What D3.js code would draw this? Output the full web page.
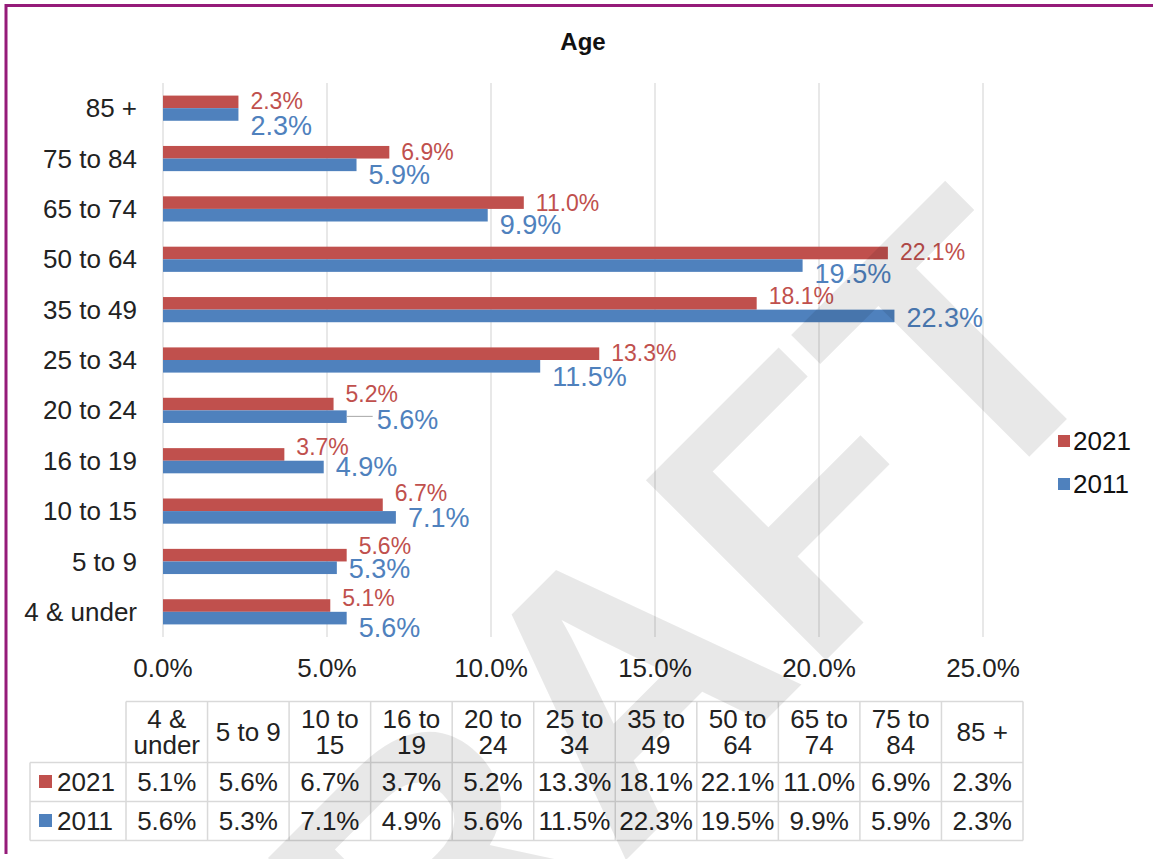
<!DOCTYPE html>
<html>
<head>
<meta charset="utf-8">
<script src="https://cdn.jsdelivr.net/npm/d3@7"></script>
<style>
  body { margin: 0; background: #fff; }
  svg text { font-family: "Liberation Sans", Arial, sans-serif; }
</style>
</head>
<body>
<div id="chart"></div>
<script>
// age bands, in table order (bottom of the chart first)
const categories = ["4 & under", "5 to 9", "10 to 15", "16 to 19", "20 to 24", "25 to 34",
                    "35 to 49", "50 to 64", "65 to 74", "75 to 84", "85 +"];
const headerLines = [["4 &", "under"], ["5 to 9"], ["10 to", "15"], ["16 to", "19"], ["20 to", "24"],
                     ["25 to", "34"], ["35 to", "49"], ["50 to", "64"], ["65 to", "74"], ["75 to", "84"], ["85 +"]];
const values2021 = [5.1, 5.6, 6.7, 3.7, 5.2, 13.3, 18.1, 22.1, 11.0, 6.9, 2.3];
const values2011 = [5.6, 5.3, 7.1, 4.9, 5.6, 11.5, 22.3, 19.5, 9.9, 5.9, 2.3];
const seriesNames = ["2021", "2011"];
const xTicks = [0, 5, 10, 15, 20, 25];

const W = 1153, H = 859;
const red = "#c0504d", blue = "#4f81bd";

var svg = d3.select("#chart").append("svg")
    .attr("width", W)
    .attr("height", H);

// purple frame (top + left only are visible)
svg.append("line").attr("x1", 6).attr("x2", W).attr("y1", 5.5).attr("y2", 5.5)
    .attr("stroke", "#951b79").attr("stroke-width", 3);
svg.append("line").attr("x1", 6).attr("x2", 6).attr("y1", 4).attr("y2", 854)
    .attr("stroke", "#951b79").attr("stroke-width", 3);

// title
svg.append("text")
    .attr("x", 583).attr("y", 50)
    .attr("text-anchor", "middle")
    .attr("font-weight", "bold")
    .attr("font-size", "24px")
    .attr("fill", "#111")
    .text("Age");

var x = d3.scaleLinear().domain([0, 25]).range([163, 983]);
var y = d3.scaleBand()
    .domain(categories.slice().reverse())
    .range([83, 637])
    .paddingInner(0.5)
    .paddingOuter(0.25);

// gridlines
svg.append("g").selectAll("line")
    .data(xTicks)
    .join("line")
    .attr("x1", d => x(d)).attr("x2", d => x(d))
    .attr("y1", 83).attr("y2", 637)
    .attr("stroke", "#d9d9d9")
    .attr("stroke-width", 1.2);

// x axis tick labels
svg.append("g").selectAll("text")
    .data(xTicks)
    .join("text")
    .attr("x", d => x(d))
    .attr("y", 668)
    .attr("dy", "0.35em")
    .attr("text-anchor", "middle")
    .attr("font-size", "26px")
    .attr("fill", "#222")
    .text(d => d3.format(".1f")(d) + "%");

// category labels
svg.append("g").selectAll("text")
    .data(categories)
    .join("text")
    .attr("x", 137)
    .attr("y", d => y(d) + y.bandwidth() / 2)
    .attr("dy", "0.35em")
    .attr("text-anchor", "end")
    .attr("font-size", "26px")
    .attr("fill", "#222")
    .text(d => d);

const half = y.bandwidth() / 2;
const rows = categories.map((c, i) => ({cat: c, i: i, v21: values2021[i], v11: values2011[i]}));

// bars
svg.append("g").selectAll("rect")
    .data(rows)
    .join("rect")
    .attr("x", x(0))
    .attr("y", d => y(d.cat))
    .attr("width", d => x(d.v21) - x(0))
    .attr("height", half)
    .attr("fill", red);
svg.append("g").selectAll("rect")
    .data(rows)
    .join("rect")
    .attr("x", x(0))
    .attr("y", d => y(d.cat) + half)
    .attr("width", d => x(d.v11) - x(0))
    .attr("height", half)
    .attr("fill", blue);

// data labels were hand-placed in the original: vertical offsets from the bar pair's centre
const dy21 = [-14, -16, -18, -13.5, -16, -7, -13.5, -7, -6, -7, -7.5];
const dy11 = [15.5, 7, 6, 6, 9, 17, 7.5, 14.5, 16, 16, 17.5];
// one 2011 label was dragged aside, with a leader line
const nudge = {"20 to 24": 18};
svg.append("g").selectAll("text")
    .data(rows)
    .join("text")
    .attr("x", d => x(d.v21) + 12)
    .attr("y", d => y(d.cat) + half + dy21[d.i])
    .attr("dy", "0.35em")
    .attr("font-size", "23px")
    .attr("fill", red)
    .text(d => d.v21.toFixed(1) + "%");
svg.append("g").selectAll("line")
    .data(rows.filter(d => nudge[d.cat]))
    .join("line")
    .attr("x1", d => x(d.v11))
    .attr("x2", d => x(d.v11) + nudge[d.cat] + 8)
    .attr("y1", d => y(d.cat) + half + dy11[d.i] - 3)
    .attr("y2", d => y(d.cat) + half + dy11[d.i] - 3)
    .attr("stroke", "#a6a6a6")
    .attr("stroke-width", 1);
svg.append("g").selectAll("text")
    .data(rows)
    .join("text")
    .attr("x", d => x(d.v11) + 12 + (nudge[d.cat] || 0))
    .attr("y", d => y(d.cat) + half + dy11[d.i])
    .attr("dy", "0.35em")
    .attr("font-size", "27px")
    .attr("fill", blue)
    .text(d => d.v11.toFixed(1) + "%");

// legend
const legendY = [441, 484];
seriesNames.forEach(function(s, i) {
    svg.append("rect").attr("x", 1058).attr("y", legendY[i] - 6).attr("width", 12).attr("height", 12)
        .attr("fill", i == 0 ? red : blue);
    svg.append("text").attr("x", 1073).attr("y", legendY[i]).attr("dy", "0.35em")
        .attr("font-size", "26px").attr("fill", "#111").text(s);
});

// data table
var col = d3.scaleBand().domain(categories).range([126, 1023]);
const rowTop = [701.5, 762.5, 801.5, 840.5];
var table = svg.append("g").attr("stroke", "#d9d9d9").attr("stroke-width", 1.5);
table.append("line").attr("x1", 126).attr("x2", 1023).attr("y1", rowTop[0]).attr("y2", rowTop[0]);
[1, 2, 3].forEach(function(r) {
    table.append("line").attr("x1", 30).attr("x2", 1023).attr("y1", rowTop[r]).attr("y2", rowTop[r]);
});
table.append("line").attr("x1", 30).attr("x2", 30).attr("y1", rowTop[1]).attr("y2", rowTop[3]);
table.selectAll(".vcol")
    .data(categories)
    .join("line")
    .attr("x1", d => col(d)).attr("x2", d => col(d))
    .attr("y1", rowTop[0]).attr("y2", rowTop[3]);
table.append("line").attr("x1", 1023).attr("x2", 1023).attr("y1", rowTop[0]).attr("y2", rowTop[3]);

// header cells
categories.forEach(function(c, i) {
    var lines = headerLines[i];
    var cy = (rowTop[0] + rowTop[1]) / 2;
    lines.forEach(function(t, j) {
        svg.append("text")
            .attr("x", col(c) + col.bandwidth() / 2)
            .attr("y", cy + (j - (lines.length - 1) / 2) * 26.5)
            .attr("dy", "0.35em")
            .attr("text-anchor", "middle")
            .attr("font-size", "26px")
            .attr("fill", "#222")
            .text(t);
    });
});
// value cells
[values2021, values2011].forEach(function(vals, r) {
    var cy = (rowTop[r + 1] + rowTop[r + 2]) / 2;
    svg.append("rect").attr("x", 39).attr("y", cy - 7).attr("width", 13).attr("height", 13)
        .attr("fill", r == 0 ? red : blue);
    svg.append("text").attr("x", 57).attr("y", cy).attr("dy", "0.35em")
        .attr("font-size", "26px").attr("fill", "#222").text(seriesNames[r]);
    svg.append("g").selectAll("text")
        .data(vals)
        .join("text")
        .attr("x", (d, i) => col(categories[i]) + col.bandwidth() / 2)
        .attr("y", cy)
        .attr("dy", "0.35em")
        .attr("text-anchor", "middle")
        .attr("font-size", "26px")
        .attr("fill", "#222")
        .text(d => d.toFixed(1) + "%");
});

// DRAFT watermark over everything
svg.append("text")
    .attr("transform", "translate(1128,358) rotate(-45)")
    .attr("text-anchor", "end")
    .attr("font-weight", "bold")
    .attr("font-size", "370px")
    .attr("fill", "#000")
    .attr("fill-opacity", 0.09)
    .text("DRAFT");
</script>
</body>
</html>
